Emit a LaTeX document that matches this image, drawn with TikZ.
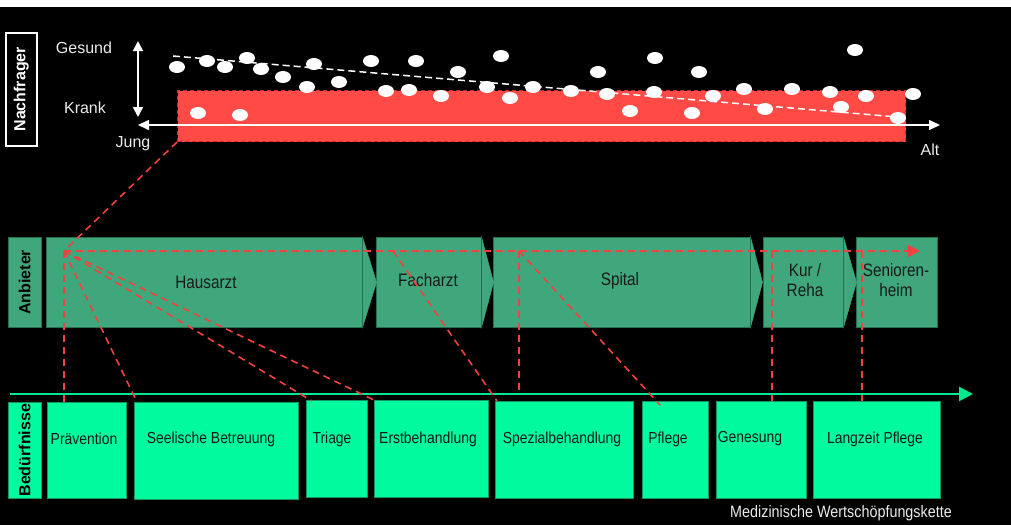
\documentclass[tikz,border=0pt]{standalone}
\usepackage{fontspec}
\setmainfont{Liberation Sans}
\newfontfamily\condf{Liberation Sans}[FakeStretch=0.87]
\newfontfamily\condA{Liberation Sans}[FakeStretch=0.85]
\usetikzlibrary{arrows.meta,calc}
\definecolor{popred}{RGB}{255,74,69}
\definecolor{popredd}{RGB}{205,45,42}
\definecolor{dashred}{RGB}{242,66,62}
\definecolor{anbgreen}{RGB}{63,167,123}
\definecolor{anbgreend}{RGB}{40,110,80}
\definecolor{bedgreen}{RGB}{0,250,158}
\definecolor{bedgreend}{RGB}{20,150,100}
\definecolor{chaingreen}{RGB}{0,232,144}
\definecolor{lightt}{RGB}{235,235,235}
\begin{document}
\begin{tikzpicture}[x=1pt,y=-1pt,
  anbbox/.style={fill=anbgreen, draw=anbgreend, line width=0.5pt, inner sep=0pt, anchor=north west, minimum height=90pt},
  bedbox/.style={fill=bedgreen, draw=bedgreend, line width=0.5pt, inner sep=0pt, anchor=north west},
  anbtext/.style={font=\condA\fontsize{18}{20}\selectfont, text=black!90, align=center, inner sep=0pt},
  bedtext/.style={font=\condf\fontsize{16}{18}\selectfont, text=black!90, inner sep=0pt},
  rowlabel/.style={font=\bfseries\fontsize{16}{18}\selectfont, rotate=90, inner sep=0pt},
  toptext/.style={font=\fontsize{16}{18}\selectfont, text=lightt, inner sep=0pt},
  reddash/.style={draw=dashred, line width=1.6pt, dash pattern=on 7pt off 5pt},
  dot/.style={fill=white, draw=none},
  tip/.style={Triangle[length=10pt,width=9pt]}
]
\useasboundingbox (0,0) rectangle (1011,525);
\fill[black] (0,0) rectangle (1011,525);
\fill[white] (0,0) rectangle (1011,7);

% ---------- Nachfrager ----------
\node[draw=white, line width=1.5pt, minimum width=31pt, minimum height=113pt, inner sep=0pt, anchor=north west] (nachbox) at (5,32) {};
\node[rowlabel, text=white] (nachlab) at (nachbox.center) {Nachfrager};

\node[toptext] (gesund) at (84,48) {Gesund};
\node[toptext] (krank) at (85,108) {Krank};
\node[toptext] (jung) at (133,144) {Jung};
\node[toptext] (alt) at (930,150) {Alt};

\node[fill=popred, draw=popredd, line width=1pt, dash pattern=on 4pt off 3pt, minimum width=728pt, minimum height=51pt, inner sep=0pt, anchor=north west] (pop) at (177,90) {};

\coordinate (vtop) at (138,41);
\coordinate (vbot) at (138,117);
\draw[white, line width=1.8pt, {Triangle[length=10pt,width=10pt]}-{Triangle[length=10pt,width=10pt]}] (vtop) -- (vbot);
\coordinate (hleft) at (138,125);
\coordinate (hright) at (940,125);
\draw[white, line width=1.5pt, {Triangle[length=11pt,width=10pt]}-{Triangle[length=11pt,width=10pt]}] (hleft) -- (hright);

\coordinate (tr1) at (173,56);
\coordinate (tr2) at (898,117);
\draw[white, line width=1.5pt, dash pattern=on 7pt off 4pt] (tr1) -- (tr2);

\foreach \p [count=\i] in {(177,67),(207,61),(225,67),(247,58),(261,69),(283,77),(314,64),(307,87),(339,82),(371,61),(416,61),(386,91),(409,90),(441,96),(458,72),(487,87),(501,56),(198,113),(240,115),(510,98),(533,87),(598,72),(655,58),(699,72),(571,91),(607,94),(630,111),(654,92),(692,113),(713,96),(744,89),(765,109),(792,89),(830,92),(841,107),(866,96),(855,50),(898,118),(913,94)}
  \fill[dot] \p ellipse [x radius=8pt, y radius=6pt];

% ---------- Anbieter ----------
\node[anbbox, minimum width=33pt] (anbl) at (8,237) {};
\node[rowlabel, text=black] (anblab) at (anbl.center) {Anbieter};

\node[anbbox, minimum width=316pt] (haus) at (46,237) {};
\node[anbbox, minimum width=105pt] (fach) at (376,237) {};
\node[anbbox, minimum width=257pt] (spital) at (493,237) {};
\node[anbbox, minimum width=80pt] (kur) at (763,237) {};
\node[anbbox, minimum width=81pt] (senior) at (856,237) {};
\foreach \b/\t in {haus/14, fach/12, spital/12, kur/13}{
  \filldraw[fill=anbgreen, draw=anbgreen, line width=0.5pt] (\b.north east) -- ($(\b.east)+(\t,0)$) -- (\b.south east) -- cycle;
  \draw[anbgreend, line width=0.8pt] (\b.north east) -- (\b.south east);
}
\node[anbtext] (haust) at (206,282) {Hausarzt};
\node[anbtext] (facht) at (428,280) {Facharzt};
\node[anbtext] (spitalt) at (620,281) {Spital};
\node[anbtext] (kurt) at (805,280) {Kur /\\Reha};
\node[anbtext] (seniort) at (896,280) {Senioren-\\heim};

% ---------- Bedürfnisse ----------
\node[bedbox, minimum width=33pt, minimum height=96pt] (bedl) at (8,402) {};
\node[rowlabel, text=black] (bedlab) at (bedl.center) {Bedürfnisse};

\node[bedbox, minimum width=79pt, minimum height=96pt] (praev) at (47,402) {};
\node[bedbox, minimum width=164pt, minimum height=97pt] (seel) at (134,402) {};
\node[bedbox, minimum width=61pt, minimum height=97pt] (triage) at (306,400) {};
\node[bedbox, minimum width=114pt, minimum height=97pt] (erst) at (374,400) {};
\node[bedbox, minimum width=138pt, minimum height=97pt] (spez) at (495,401) {};
\node[bedbox, minimum width=66pt, minimum height=97pt] (pflege) at (642,401) {};
\node[bedbox, minimum width=90pt, minimum height=97pt] (genes) at (716,401) {};
\node[bedbox, minimum width=127pt, minimum height=97pt] (lang) at (813,401) {};

\node[bedtext] (praevt) at (84,439) {Prävention};
\node[bedtext] (seelt) at (211,439) {Seelische Betreuung};
\node[bedtext] (triaget) at (332,439) {Triage};
\node[bedtext] (erstt) at (428,439) {Erstbehandlung};
\node[bedtext] (spezt) at (562,439) {Spezialbehandlung};
\node[bedtext] (pflegt) at (668,439) {Pflege};
\node[bedtext] (genest) at (750,439) {Genesung};
\node[bedtext] (langt) at (875,439) {Langzeit Pflege};

\coordinate (chainS) at (10,394);
\coordinate (chainE) at (973,394);
\draw[chaingreen, line width=2.5pt, -{Triangle[length=14pt,width=14pt]}] (chainS) -- (chainE);

\node[font=\condf\fontsize{16.5}{18}\selectfont, text=lightt, inner sep=0pt] (chainlab) at (841,513) {Medizinische Wertschöpfungskette};

% ---------- red dashed connections ----------
\coordinate (hub) at (64,251);
\coordinate (arrend) at (920,251);
\coordinate (fhub) at (393,251);
\coordinate (shub) at (519,251);
\coordinate (khub) at (772,251);
\coordinate (snhub) at (862,251);

\draw[reddash] (pop.south west) -- (hub);
\draw[reddash, -{Triangle[length=12pt,width=12pt]}] (hub) -- (arrend);
\draw[reddash] (hub) -- (hub |- praev.north);
\draw[reddash] (hub) -- ($(seel.north west)+(3,0)$);
\draw[reddash] (hub) -- ($(triage.north west)+(6,1)$);
\draw[reddash] (hub) -- (erst.north west);
\draw[reddash] (fhub) -- ($(spez.north west)+(2,0)$);
\draw[reddash] (shub) -- (shub |- chainS);
\draw[reddash] (shub) -- ($(pflege.north west)+(18,4)$);
\draw[reddash] (khub) -- (khub |- genes.north);
\draw[reddash] (snhub) -- (snhub |- lang.north);
\end{tikzpicture}
\end{document}
